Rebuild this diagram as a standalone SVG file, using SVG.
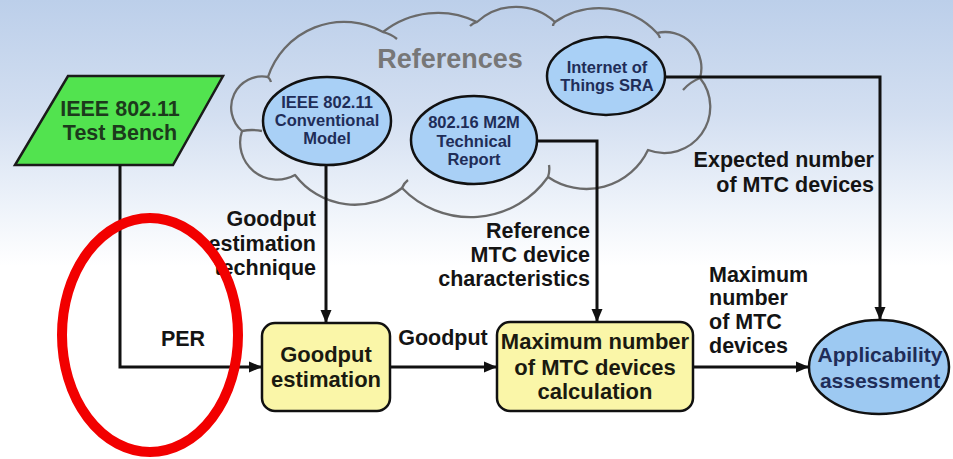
<svg xmlns="http://www.w3.org/2000/svg" width="953" height="459" viewBox="0 0 953 459">
  <defs>
    <linearGradient id="bg" x1="0" y1="0" x2="0" y2="1">
      <stop offset="0" stop-color="#bccfea"/>
      <stop offset="0.25" stop-color="#d3dff1"/>
      <stop offset="0.45" stop-color="#eef3fa"/>
      <stop offset="0.58" stop-color="#ffffff"/>
      <stop offset="1" stop-color="#ffffff"/>
    </linearGradient>
    <marker id="arrow" markerUnits="userSpaceOnUse" markerWidth="14" markerHeight="12" refX="13" refY="6" orient="auto">
      <path d="M0,0.5 L13,6 L0,11.5 z" fill="#111"/>
    </marker>
    <style>
      .lbl { font-family: "Liberation Sans", Arial, sans-serif; font-weight: bold; font-size: 21.5px; fill: #141414; }
      .box { fill: #faf6a8; stroke: #111; stroke-width: 2.5; }
      .ref { fill: #a9d0f6; stroke: #111; stroke-width: 2.5; }
      .reftxt { font-family: "Liberation Sans", Arial, sans-serif; font-weight: bold; font-size: 16.5px; fill: #1f2d58; text-anchor: middle; }
      .boxtxt { font-family: "Liberation Sans", Arial, sans-serif; font-weight: bold; font-size: 22px; fill: #1a1a10; text-anchor: middle; }
      .wire { fill: none; stroke: #111; stroke-width: 3; }
      .cloud { fill: none; stroke: #6a6a6a; stroke-width: 2.3; stroke-linejoin: round; }
    </style>
  </defs>

  <rect x="0" y="0" width="953" height="459" fill="url(#bg)"/>

  <!-- References cloud -->
  <g id="references">
    <path class="cloud" d="M268,77 A80 80 0 0 1 383,32 A88 88 0 0 1 477,22 A58 58 0 0 1 555,22 A79 79 0 0 1 657,33 A36 36 0 0 1 700,78 A46 46 0 0 1 648,150 A68 68 0 0 1 548,177 A95 95 0 0 1 402,188 A75 75 0 0 1 295,175 A37 37 0 0 1 242,131 A31 31 0 0 1 268,77 Z"/>
    <!-- inner folds of the cloud outline -->
    <path class="cloud" d="M383,32 q8,2 14,7 M477,22 q-4,1 -7,4 M555,22 q-2,2 -2,4 M657,33 q2,2 3,5 M700,78 q-10,4 -17,12 M548,177 q2,-6 1,-12 M402,188 q2,-5 6,-8 M242,131 q10,-2 20,0 M268,77 q2,2 3,5"/>
    <text x="450" y="68" text-anchor="middle" font-family="Liberation Sans, Arial, sans-serif" font-weight="bold" font-size="27px" fill="#777">References</text>
  </g>

  <!-- Test bench -->
  <g id="testbench">
    <polygon points="68,76 223,76 173,165 15,165" fill="#52e34f" stroke="#1b1b1b" stroke-width="2.5"/>
    <text x="120" y="116" text-anchor="middle" font-family="Liberation Sans, Arial, sans-serif" font-weight="bold" font-size="21.5px" fill="#1c3a1c">IEEE 802.11</text>
    <text x="120" y="140" text-anchor="middle" font-family="Liberation Sans, Arial, sans-serif" font-weight="bold" font-size="21.5px" fill="#1c3a1c">Test Bench</text>
  </g>

  <!-- Reference sources -->
  <g id="conventional-model">
    <ellipse class="ref" cx="327" cy="121" rx="64" ry="44"/>
    <text class="reftxt" x="327" y="108">IEEE 802.11</text>
    <text class="reftxt" x="327" y="126">Conventional</text>
    <text class="reftxt" x="327" y="144">Model</text>
  </g>
  <g id="m2m-report">
    <ellipse class="ref" cx="474" cy="140" rx="63" ry="44"/>
    <text class="reftxt" x="474" y="128">802.16 M2M</text>
    <text class="reftxt" x="474" y="147">Technical</text>
    <text class="reftxt" x="474" y="165">Report</text>
  </g>
  <g id="iot-sra">
    <ellipse class="ref" cx="606" cy="76" rx="59" ry="39"/>
    <text class="reftxt" x="607" y="73" font-size="16px">Internet of</text>
    <text class="reftxt" x="607" y="91" font-size="16px">Things SRA</text>
  </g>

  <!-- Processing steps -->
  <g id="goodput-estimation">
    <rect class="box" x="262" y="323" width="128" height="88" rx="13"/>
    <text class="boxtxt" x="326" y="362">Goodput</text>
    <text class="boxtxt" x="326" y="387">estimation</text>
  </g>
  <g id="max-devices">
    <rect class="box" x="497" y="322" width="196" height="89" rx="13"/>
    <text class="boxtxt" x="595" y="349">Maximum number</text>
    <text class="boxtxt" x="595" y="375">of MTC devices</text>
    <text class="boxtxt" x="595" y="399">calculation</text>
  </g>
  <g id="applicability">
    <ellipse cx="879" cy="367" rx="70" ry="47" fill="#9dc9f2" stroke="#111" stroke-width="2.5"/>
    <text x="880" y="362" text-anchor="middle" font-family="Liberation Sans, Arial, sans-serif" font-weight="bold" font-size="21px" fill="#1f2d58">Applicability</text>
    <text x="880" y="388" text-anchor="middle" font-family="Liberation Sans, Arial, sans-serif" font-weight="bold" font-size="21px" fill="#1f2d58">assessment</text>
  </g>

  <!-- Connectors and their labels -->
  <g id="connectors">
    <polyline class="wire" points="120,165 120,367 262,367" marker-end="url(#arrow)"/>
    <line class="wire" x1="326" y1="165" x2="326" y2="323" marker-end="url(#arrow)"/>
    <line class="wire" x1="390" y1="367" x2="497" y2="367" marker-end="url(#arrow)"/>
    <polyline class="wire" points="537,141 597,141 597,322" marker-end="url(#arrow)"/>
    <line class="wire" x1="693" y1="367" x2="809" y2="367" marker-end="url(#arrow)"/>
    <polyline class="wire" points="665,77 880,77 880,320" marker-end="url(#arrow)"/>

    <text class="lbl" x="183" y="346" text-anchor="middle">PER</text>
    <text class="lbl" x="316" y="226" text-anchor="end">Goodput</text>
    <text class="lbl" x="316" y="251" text-anchor="end">estimation</text>
    <text class="lbl" x="316" y="275" text-anchor="end">technique</text>
    <text class="lbl" x="443" y="345" text-anchor="middle">Goodput</text>
    <text class="lbl" x="590" y="238" text-anchor="end">Reference</text>
    <text class="lbl" x="590" y="262" text-anchor="end">MTC device</text>
    <text class="lbl" x="590" y="286" text-anchor="end">characteristics</text>
    <text class="lbl" x="709" y="282">Maximum</text>
    <text class="lbl" x="709" y="305">number</text>
    <text class="lbl" x="709" y="329">of MTC</text>
    <text class="lbl" x="709" y="353">devices</text>
    <text class="lbl" x="874" y="167" text-anchor="end">Expected number</text>
    <text class="lbl" x="874" y="192" text-anchor="end">of MTC devices</text>
  </g>

  <!-- Highlight mark -->
  <ellipse cx="150" cy="335" rx="88" ry="117" fill="none" stroke="#f20000" stroke-width="10"/>
</svg>
